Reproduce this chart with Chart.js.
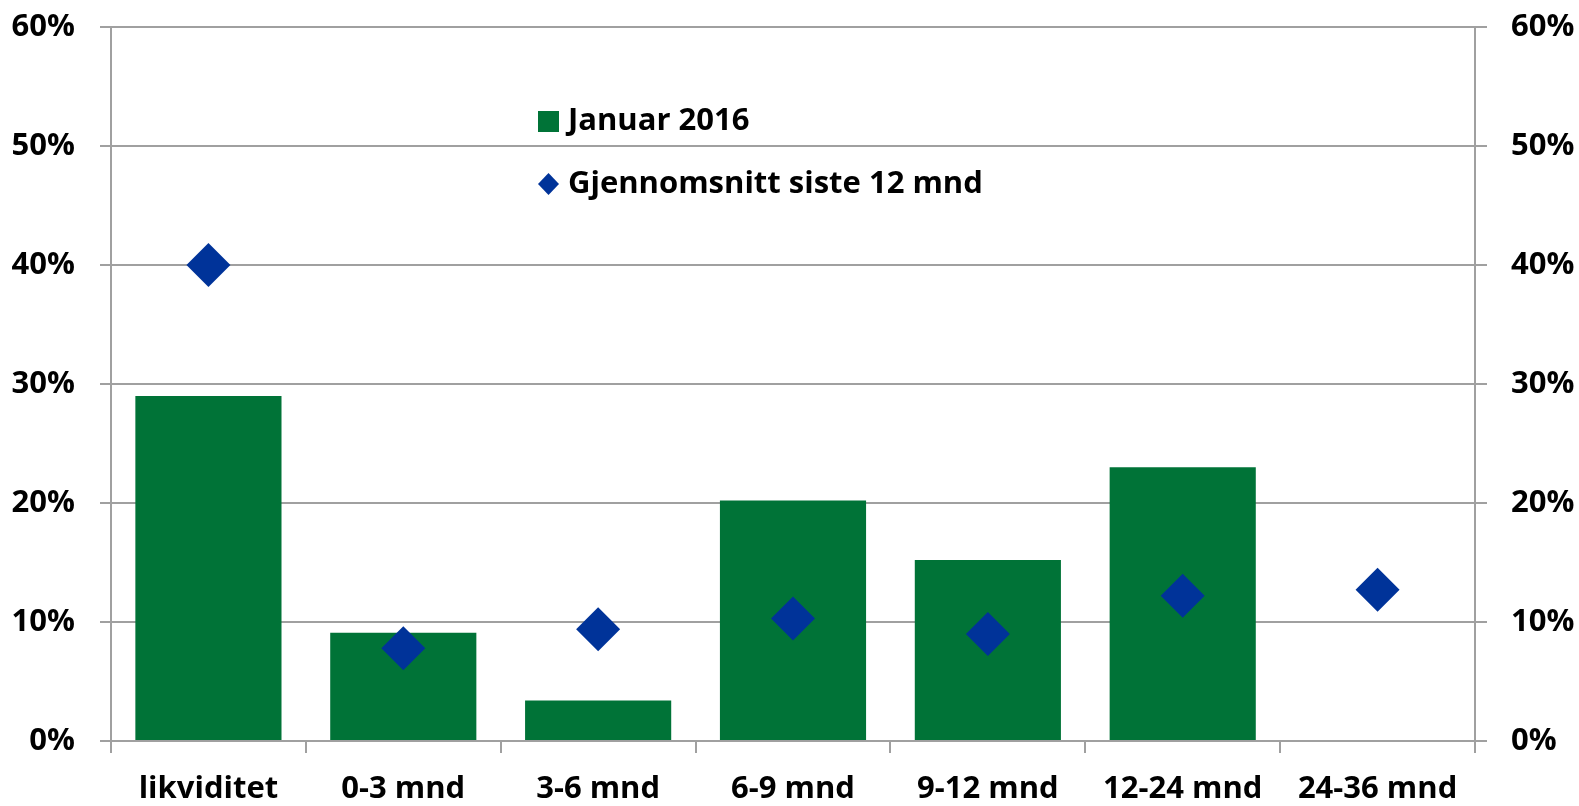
<!DOCTYPE html>
<html>
<head>
<meta charset="utf-8">
<script src="https://cdn.jsdelivr.net/npm/chart.js@4"></script>
<style>
  html, body { margin: 0; padding: 0; background: #fff; }
  #wrap { width: 1579px; height: 806px; }
</style>
</head>
<body>
<div id="wrap"><canvas id="chart" width="1579" height="806"></canvas></div>
<script>
const categories = ['likviditet', '0-3 mnd', '3-6 mnd', '6-9 mnd', '9-12 mnd', '12-24 mnd', '24-36 mnd'];
const januar2016 = [29.0, 9.1, 3.4, 20.2, 15.2, 23.0, 0];
const snitt12mnd = [40.0, 7.8, 9.4, 10.3, 9.0, 12.2, 12.7];
const yTicks = [0, 10, 20, 30, 40, 50, 60];

const GREEN = '#007337';
const BLUE = '#003399';
const GRID = '#a0a0a0';
const FONT = { family: 'Open Sans', size: 31, weight: 'bold' };

// legend drawn inside the plot area, like the original
const innerLegend = {
  id: 'innerLegend',
  afterDraw(chart) {
    const ctx = chart.ctx;
    const x = 538, rows = [121, 184];
    ctx.save();
    ctx.font = 'bold 31px "Open Sans"';
    ctx.textBaseline = 'middle';
    chart.data.datasets.forEach((ds, i) => {
      const y = rows[i];
      if (ds.type === 'bar') {
        ctx.fillStyle = ds.backgroundColor;
        ctx.fillRect(x, y - 10, 21, 21);
      } else {
        ctx.fillStyle = ds.pointBackgroundColor;
        ctx.beginPath();
        ctx.moveTo(x + 10.5, y - 11);
        ctx.lineTo(x + 21, y);
        ctx.lineTo(x + 10.5, y + 11);
        ctx.lineTo(x, y);
        ctx.closePath();
        ctx.fill();
      }
      ctx.fillStyle = '#000';
      ctx.fillText(ds.label, x + 30, y);
    });
    ctx.restore();
  }
};

// keep the label overhang from pushing the plot area down
function fitY(width) {
  return s => {
    s.width = width;
    s.paddingTop = 0;
    s.paddingBottom = 0;
  };
}

new Chart(document.getElementById('chart'), {
  data: {
    labels: categories,
    datasets: [
      {
        type: 'bar',
        label: 'Januar 2016',
        data: januar2016,
        backgroundColor: GREEN,
        barPercentage: 0.75,
        categoryPercentage: 1,
        order: 1
      },
      {
        type: 'line',
        label: 'Gjennomsnitt siste 12 mnd',
        data: snitt12mnd,
        showLine: false,
        pointStyle: 'rectRot',
        pointRadius: 22,
        pointHoverRadius: 22,
        pointBackgroundColor: BLUE,
        pointBorderWidth: 0,
        order: 0
      }
    ]
  },
  options: {
    responsive: false,
    animation: false,
    layout: { padding: { top: 27, left: 0, right: 0, bottom: 0 } },
    plugins: {
      legend: { display: false },
      tooltip: { enabled: false }
    },
    scales: {
      x: {
        offset: true,
        grid: { offset: true, drawOnChartArea: false, tickLength: 12, color: GRID, lineWidth: 2 },
        border: { display: false },
        ticks: { color: '#000', font: FONT, padding: 18, maxRotation: 0, autoSkip: false },
        afterFit(s) { s.height = 65; s.paddingLeft = 0; s.paddingRight = 0; }
      },
      y: {
        position: 'left',
        min: 0, max: 60,
        afterBuildTicks(s) { s.ticks = yTicks.map(v => ({ value: v })); },
        grid: { color: GRID, lineWidth: 2, tickLength: 11 },
        border: { color: GRID, width: 2 },
        ticks: { color: '#000', font: FONT, padding: 25, callback: v => v + '%' },
        afterFit: fitY(111)
      },
      y2: {
        position: 'right',
        min: 0, max: 60,
        afterBuildTicks(s) { s.ticks = yTicks.map(v => ({ value: v })); },
        grid: { drawOnChartArea: false, color: GRID, lineWidth: 2, tickLength: 12 },
        border: { color: GRID, width: 2 },
        ticks: { color: '#000', font: FONT, padding: 24, callback: v => v + '%' },
        afterFit: fitY(104)
      }
    }
  },
  plugins: [innerLegend]
});
</script>
</body>
</html>
